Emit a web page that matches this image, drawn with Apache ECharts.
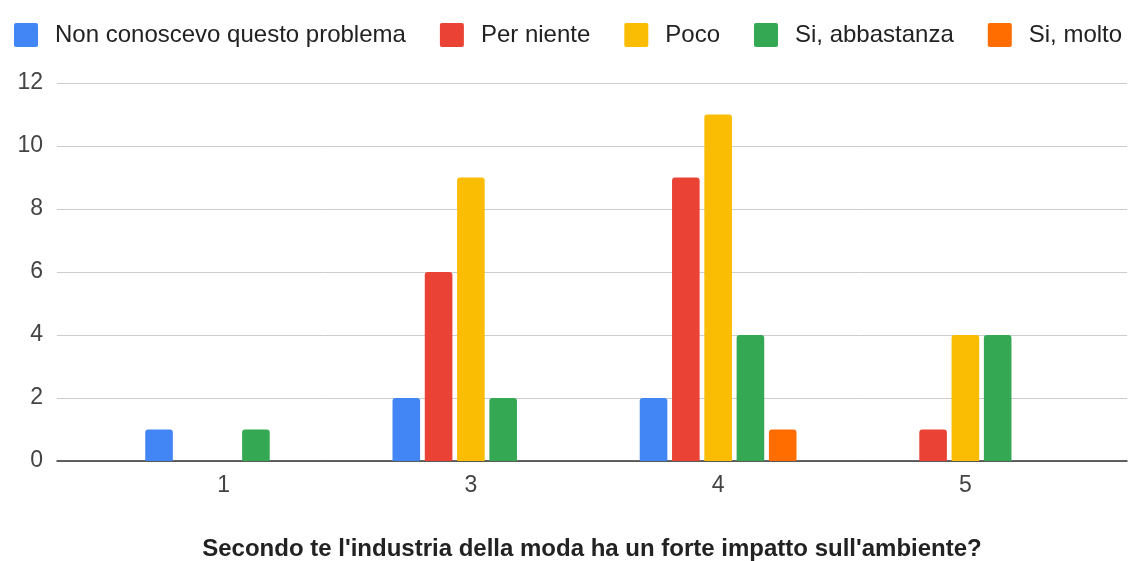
<!DOCTYPE html>
<html>
<head>
<meta charset="utf-8">
<script src="https://cdn.jsdelivr.net/npm/echarts@6/dist/echarts.min.js"></script>
<style>html,body{margin:0;padding:0;background:#fff}#c{width:1129px;height:561px}</style>
</head>
<body>
<div id="c"></div>
<script>
const categories = ['1', '3', '4', '5'];
const seriesNames = ['Non conoscevo questo problema', 'Per niente', 'Poco', 'Si, abbastanza', 'Si, molto'];
const nonConoscevo = [1, 2, 2, 0];
const perNiente = [0, 6, 9, 1];
const poco = [0, 9, 11, 4];
const siAbbastanza = [1, 2, 4, 4];
const siMolto = [0, 0, 1, 0];
const yTicks = [0, 2, 4, 6, 8, 10, 12];
const axisTitle = "Secondo te l'industria della moda ha un forte impatto sull'ambiente?";

const colors = ['#4285F4', '#EA4335', '#FBBC04', '#34A853', '#FF6D01'];
const values = [nonConoscevo, perNiente, poco, siAbbastanza, siMolto];
const FONT = 'Arial, "Liberation Sans", sans-serif';

const chart = echarts.init(document.getElementById('c'), null, {renderer: 'canvas'});
chart.setOption({
  animation: false,
  backgroundColor: '#fff',
  color: colors,
  legend: {
    left: 9, top: 18,
    itemWidth: 24, itemHeight: 24, itemGap: 34,
    icon: 'path://M2,0H22A2,2 0 0 1 24,2V22A2,2 0 0 1 22,24H2A2,2 0 0 1 0,22V2A2,2 0 0 1 2,0Z',
    textStyle: {fontFamily: FONT, fontSize: 24, color: '#222', padding: [0, 0, 0, 12]},
    data: seriesNames
  },
  grid: [
    {left: 57, right: 2, top: 83, bottom: 100, containLabel: false, outerBoundsMode: 'none'},
    {left: 100, right: 40, top: 83, bottom: 100, containLabel: false, outerBoundsMode: 'none'}
  ],
  xAxis: [
    {
      gridIndex: 0, type: 'category', data: categories,
      axisLine: {show: true, lineStyle: {color: '#333', width: 1.5}},
      axisTick: {show: false}, axisLabel: {show: false}, splitLine: {show: false},
      name: axisTitle, nameLocation: 'middle', nameGap: 76,
      nameTextStyle: {fontFamily: FONT, fontSize: 24, fontWeight: 'bold', color: '#222'}
    },
    {
      gridIndex: 1, type: 'category', data: categories,
      axisLine: {show: false}, axisTick: {show: false}, splitLine: {show: false},
      axisLabel: {fontFamily: FONT, fontSize: 23, color: '#444', margin: 13}
    }
  ],
  yAxis: [
    {
      gridIndex: 0, type: 'value', min: yTicks[0], max: yTicks[yTicks.length - 1], interval: 2,
      axisLine: {show: false}, axisTick: {show: false},
      axisLabel: {fontFamily: FONT, fontSize: 23, color: '#444', margin: 14},
      splitLine: {show: true, lineStyle: {color: '#ccc', width: 1}}
    },
    {
      gridIndex: 1, type: 'value', min: yTicks[0], max: yTicks[yTicks.length - 1], interval: 2,
      show: false, splitLine: {show: false}
    }
  ],
  series: seriesNames.map((name, i) => ({
    name: name,
    type: 'bar',
    xAxisIndex: 1, yAxisIndex: 1,
    data: values[i],
    barWidth: 27.6,
    barGap: '17%',
    itemStyle: {color: colors[i], borderRadius: [3, 3, 0, 0]}
  }))
});
</script>
</body>
</html>
